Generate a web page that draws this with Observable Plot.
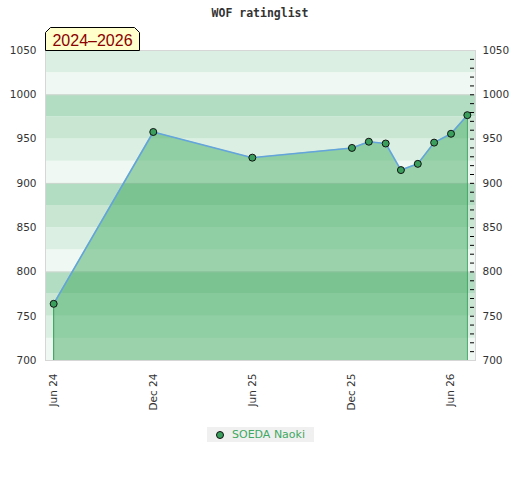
<!DOCTYPE html>
<html>
<head>
<meta charset="utf-8">
<script src="https://cdn.jsdelivr.net/npm/d3@7"></script>
<script src="https://cdn.jsdelivr.net/npm/@observablehq/plot@0.6"></script>
<style>
  body { margin: 0; background: #fff; }
  #wrap { position: relative; width: 520px; height: 480px; }
  #title { height: 26px; line-height: 26px; text-align: center; font-family: "DejaVu Sans Mono", monospace; font-weight: bold; font-size: 11.5px; color: #333; }
  #badge { position: absolute; left: 44px; top: 26px; }
  #legend { position: absolute; top: 427px; left: 207px; width: 107px; height: 15px; background: #f0f0f0; font-family: "DejaVu Sans", sans-serif; font-size: 11px; color: #3fa862; line-height: 15px; }
  #legend .dot { position: absolute; left: 9px; top: 4px; width: 6px; height: 6px; border-radius: 50%; background: #3a9f5c; border: 1px solid #111; }
  #legend .lab { position: absolute; left: 25px; top: 0; }
</style>
</head>
<body>
<div id="wrap">
  <div id="title">WOF ratinglist</div>
  <div id="chart"></div>
  <svg id="badge" width="100" height="26">
    <polygon points="1.5,6.5 6.5,1.5 90.5,1.5 95.5,6.5 95.5,24.5 1.5,24.5" fill="#ffffcc" stroke="#000" stroke-width="1"/>
    <text x="48.5" y="20" text-anchor="middle" font-family="Liberation Sans, Arial, sans-serif" font-size="16" fill="#8b0000">2024–2026</text>
  </svg>
  <div id="legend"><span class="dot"></span><span class="lab">SOEDA Naoki</span></div>
</div>
<script>
// --- data ---
const dates = ["2024-06-01","2024-12-01","2025-06-01","2025-12-01","2026-01-01","2026-02-01","2026-03-01","2026-04-01","2026-05-01","2026-06-01","2026-07-01"];
const ratings = [764, 958, 929, 940, 947, 945, 915, 922, 946, 956, 977];
const xTicks = ["2024-06-01","2024-12-01","2025-06-01","2025-12-01","2026-06-01"];
const yMajorTicks = [700, 750, 800, 850, 900, 950, 1000, 1050];
const yMinorTicks = [710,720,730,740,750,760,770,780,790,800,810,820,830,840,850,860,870,880,890,900,910,920,930,940,950,960,970,980,990,1000,1010,1020,1030,1040];
const bandLows = [700,725,750,775,800,825,850,875,900,925,950,975,1000,1025];
const gridLines = [800, 900, 1000];
const xDomain = ["2024-05-17", "2026-07-16"];
const yDomain = [700, 1050];

const data = dates.map((d, i) => ({date: new Date(d), rating: ratings[i]}));
const edges = [data[0], data[data.length - 1]];
const bandShades = ["#eff8f2", "#dbefe2", "#c8e6d2", "#b3ddc2"];
const xd = xDomain.map(d => new Date(d));

const chart = Plot.plot({
  width: 520,
  height: 400,
  marginTop: 24,
  marginBottom: 66,
  marginLeft: 45,
  marginRight: 45,
  style: {fontFamily: "DejaVu Sans, sans-serif", fontSize: "10.5px", color: "#333", background: "white", overflow: "visible"},
  x: {type: "utc", domain: xd},
  y: {domain: yDomain},
  marks: [
    Plot.rect(bandLows, {
      x1: () => xd[0], x2: () => xd[1],
      y1: d => d, y2: d => d + 25,
      fill: d => bandShades[((d - 700) / 25) % 4]
    }),
    Plot.ruleY(gridLines, {stroke: "#cfd6d1", strokeWidth: 1}),
    Plot.areaY(data, {x: "date", y1: 700, y2: "rating", fill: "#3ea95e", fillOpacity: 0.48}),
    Plot.ruleX(edges, {x: "date", y1: 700, y2: "rating", stroke: "#35a05a", strokeWidth: 1}),
    Plot.frame({stroke: "#d6d6d6"}),
    Plot.line(data, {x: "date", y: "rating", stroke: "#64a4dc", strokeWidth: 1.6}),
    Plot.dot(data, {x: "date", y: "rating", r: 3.5, fill: "#3a9f5c", stroke: "#111", strokeWidth: 1}),
    Plot.tickY(yMinorTicks, {y: d => d, insetLeft: 425, insetRight: 1, stroke: "#000"}),
    Plot.axisY({anchor: "left", ticks: yMajorTicks, tickFormat: d => String(d), tickSize: 0, tickPadding: 9, label: null}),
    Plot.axisY({anchor: "right", ticks: yMajorTicks, tickFormat: d => String(d), tickSize: 0, tickPadding: 7, label: null}),
    Plot.axisX({ticks: xTicks.map(d => new Date(d)), tickFormat: d3.utcFormat("%b %y"), tickRotate: -90, tickSize: 0, tickPadding: 13, label: null})
  ]
});
document.getElementById("chart").appendChild(chart);
</script>
</body>
</html>
